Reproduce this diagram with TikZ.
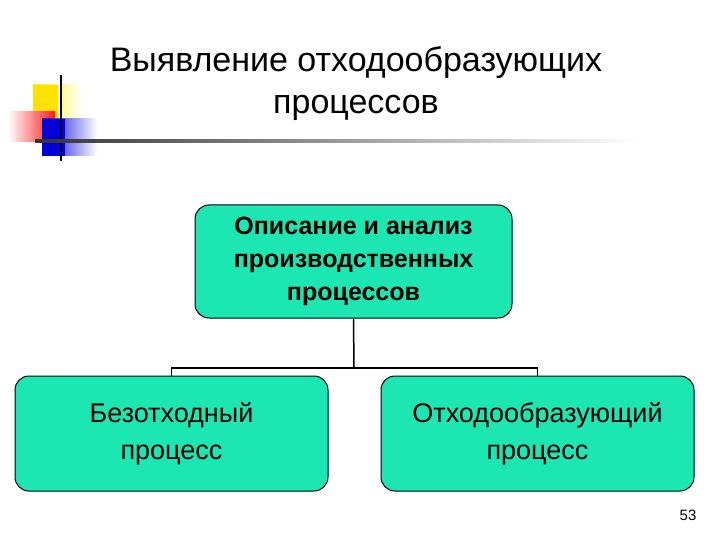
\documentclass[tikz,border=0pt]{standalone}
\usepackage{fontspec}
\setmainfont{Liberation Sans}
\definecolor{boxc}{RGB}{28,230,178}
\begin{document}
\begin{tikzpicture}[x=1pt,y=-1pt,
 bx/.style={draw=black,line width=1pt,fill=boxc,rounded corners=14pt,align=center,inner sep=0pt},
 ln/.style={line width=1.5pt}]
\useasboundingbox (0,0) rectangle (720,540);
% decoration
\shade[left color=yellow!90!orange,right color=white] (33,85) rectangle (82,121);
\fill[yellow!85!orange] (33,85) rectangle (58,121);
\shade[left color=white,right color=red!90] (8,112) rectangle (55,142);
\shade[left color=blue!85!black,right color=white] (42,119) rectangle (97,156);
\fill[blue!85!black] (42,119) rectangle (65,156);
\draw[line width=1.5pt,black!80!blue] (61,75) -- (61,161);
\shade[left color=black!80,right color=white] (35,140) rectangle (640,142.5);
\node[font=\fontsize{34}{42}\selectfont,align=center] (title) at (356,84) {Выявление отходообразующих\\процессов};
\node[bx,minimum width=317,minimum height=113,font=\bfseries\fontsize{25}{33}\selectfont] (top) at (353.5,261.5) {Описание и анализ\\производственных\\процессов};
\node[bx,minimum width=313,minimum height=115,font=\fontsize{27}{37}\selectfont] (l) at (171.5,433.5) {Безотходный\\процесс};
\node[bx,minimum width=313,minimum height=115,font=\fontsize{27}{37}\selectfont] (r) at (537.5,433.5) {Отходообразующий\\процесс};
\coordinate (j) at (354,368);
\draw[ln] (top.south) -- (j);
\draw[ln] (l.north) -- (l.north |- j) -- (r.north |- j) -- (r.north);
\node[font=\fontsize{15}{18}\selectfont] (num) at (688,515) {53};
\end{tikzpicture}
\end{document}
